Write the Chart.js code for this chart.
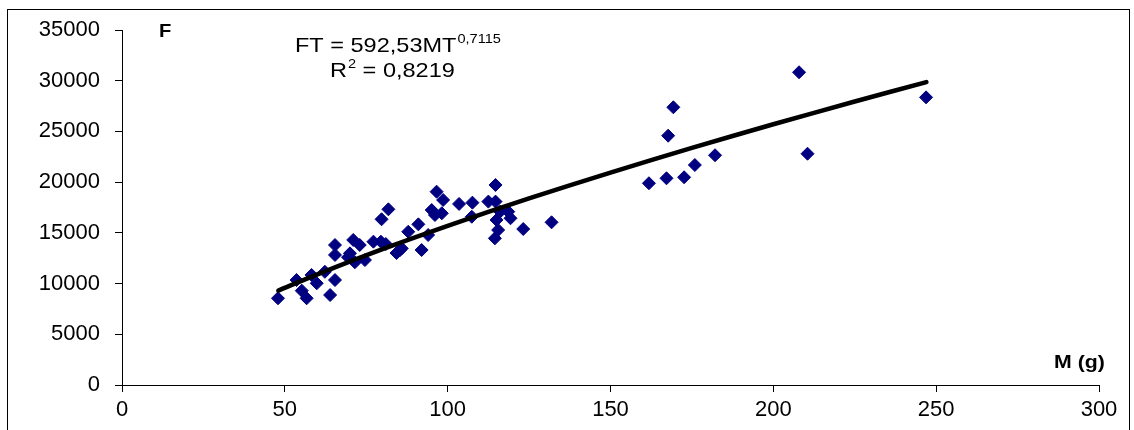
<!DOCTYPE html>
<html>
<head>
<meta charset="utf-8">
<script src="https://cdn.jsdelivr.net/npm/chart.js@4.4.1/dist/chart.umd.min.js"></script>
<style>
html,body{margin:0;padding:0;background:#fff;}
#c{display:block;}
</style>
</head>
<body>
<canvas id="c" width="1134" height="430"></canvas>
<script>
// Observed data: mass M (g) and force F
const massM = [47.9,53.6,55.2,56.7,58.2,59.8,62.3,63.9,65.4,65.4,65.4,70.0,69.4,71.0,71.5,74.6,73.0,77.2,79.5,81.0,79.7,81.8,84.3,85.4,85.9,87.9,91.0,92.0,94.0,95.1,96.1,96.6,98.6,98.2,103.5,107.6,107.4,112.5,114.7,114.7,116.1,118.6,119.3,115.0,115.5,114.5,123.2,131.9,161.8,167.2,167.7,169.3,172.6,175.9,182.1,207.9,210.5,246.9];
const forceF = [8550,10350,9300,8550,10850,10030,11160,8870,10350,13800,12820,12980,12600,14300,12100,12320,13800,14130,14130,13900,16340,17320,13010,13310,13470,15110,15840,13310,14790,17250,16760,19060,18240,16930,17850,17980,16590,18080,18080,19720,17090,17090,16440,16270,15280,14460,15380,16040,19890,20380,24580,27380,20480,21690,22650,30830,22800,28360];
// Trend line FT = 592,53 MT^0,7115
const trendM = [48,60,80,100,125,150,175,200,225,247];
const trendF = [9309,10909,13391,15696,18394,20946,23370,25705,27950,29864];
// Tick labels
const xTicks = [0,50,100,150,200,250,300];
const yTicks = [0,5000,10000,15000,20000,25000,30000,35000];
const eqText = "FT = 592,53MT";
const eqExp = "0,7115";
const r2Text = ["R", "2", " = 0,8219"];
const yTitle = "F";
const xTitle = "M (g)";

const pts = massM.map((m,i)=>({x:m,y:forceF[i]}));
const trend = trendM.map((m,i)=>({x:m,y:trendF[i]}));
const FONT = "'Liberation Sans', Arial, sans-serif";
const SX = 1.12;

function stretchText(ctx, txt, x, y, font){
  ctx.save();
  ctx.font = font;
  ctx.translate(x, y);
  ctx.scale(SX, 1);
  ctx.fillText(txt, 0, 0);
  const w = ctx.measureText(txt).width * SX;
  ctx.restore();
  return w;
}

const deco = {
  id:'deco',
  afterDraw(chart){
    const ctx = chart.ctx;
    ctx.save();
    ctx.strokeStyle = '#000';
    ctx.lineWidth = 1;
    ctx.strokeRect(7.5, 9.5, 1122, 440);
    ctx.fillStyle = '#000';
    ctx.textBaseline = 'alphabetic';
    ctx.textAlign = 'left';
    // equation
    let x = 295;
    x += stretchText(ctx, eqText, x, 52, "21px " + FONT);
    stretchText(ctx, eqExp, x + 1, 43, "13px " + FONT);
    // R2
    x = 330;
    x += stretchText(ctx, r2Text[0], x, 77, "21px " + FONT);
    x += stretchText(ctx, r2Text[1], x + 1, 68, "13px " + FONT) + 1;
    stretchText(ctx, r2Text[2], x, 77, "21px " + FONT);
    // axis titles
    stretchText(ctx, yTitle, 159, 37, "bold 18px " + FONT);
    stretchText(ctx, xTitle, 1054, 368, "bold 19px " + FONT);
    ctx.restore();
  }
};

new Chart(document.getElementById('c'), {
  type:'scatter',
  data:{
    datasets:[
      {
        label:'trend',
        data:trend,
        showLine:true,
        borderColor:'#000',
        borderWidth:4.5,
        borderCapStyle:'round',
        pointRadius:0,
        pointHoverRadius:0,
        tension:0.3,
        order:0
      },
      {
        label:'F',
        data:pts,
        pointStyle:'rectRot',
        pointRadius:6.5,
        pointBackgroundColor:'#000080',
        pointBorderColor:'#000080',
        pointBorderWidth:1,
        showLine:false,
        order:1
      }
    ]
  },
  options:{
    responsive:false,
    animation:false,
    devicePixelRatio:1,
    layout:{padding:{top:30,right:35,bottom:0,left:0}},
    plugins:{legend:{display:false},tooltip:{enabled:false}},
    scales:{
      x:{
        type:'linear',
        min:0,max:300,
        afterBuildTicks(s){ s.ticks = xTicks.map(v=>({value:v})); },
        afterFit(s){ s.height = 45; },
        border:{display:true,color:'#000',width:1},
        grid:{display:true,drawOnChartArea:false,drawTicks:true,tickLength:7,color:'#000'},
        ticks:{color:'#000',font:{family:FONT,size:22},padding:5,maxRotation:0}
      },
      y:{
        type:'linear',
        min:0,max:35000,
        afterBuildTicks(s){ s.ticks = yTicks.map(v=>({value:v})); },
        afterFit(s){ s.width = 122; },
        border:{display:true,color:'#000',width:1},
        grid:{display:true,drawOnChartArea:false,drawTicks:true,tickLength:7,color:'#000'},
        ticks:{color:'#000',font:{family:FONT,size:22},padding:15,callback:v=>String(v)}
      }
    }
  },
  plugins:[deco]
});
</script>
</body>
</html>
